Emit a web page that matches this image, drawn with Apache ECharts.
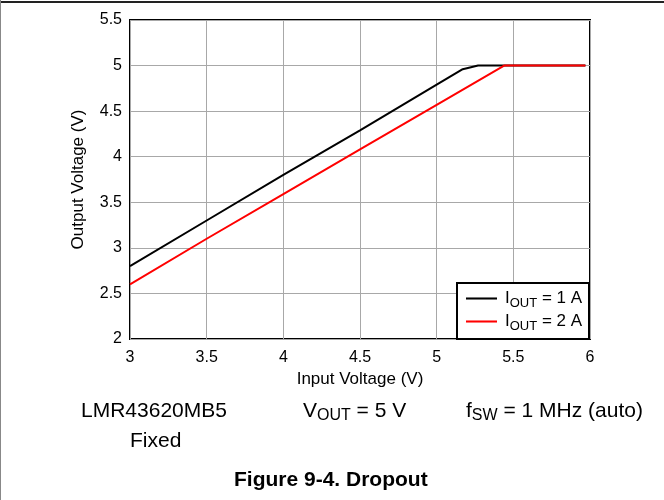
<!DOCTYPE html>
<html>
<head>
<meta charset="utf-8">
<script src="https://cdn.jsdelivr.net/npm/echarts@6/dist/echarts.min.js"></script>
<style>
  html, body { margin: 0; padding: 0; background: #fff; }
  #chart { width: 664px; height: 500px; }
</style>
</head>
<body>
<div id="chart"></div>
<script>
// Dropout curves: output voltage vs input voltage
const inputV1A = [3.0, 3.5, 4.0, 4.5, 5.0, 5.17, 5.27, 5.97];
const outputV1A = [2.80, 3.30, 3.80, 4.29, 4.79, 4.96, 5.0, 5.0];
const inputV2A = [3.0, 3.5, 4.0, 4.5, 5.0, 5.44, 5.97];
const outputV2A = [2.60, 3.10, 3.59, 4.08, 4.57, 5.0, 5.0];
const seriesNames = ['I_OUT = 1 A', 'I_OUT = 2 A'];
const xTicks = [3, 3.5, 4, 4.5, 5, 5.5, 6];
const yTicks = [2, 2.5, 3, 3.5, 4, 4.5, 5, 5.5];

const FONT = '"Liberation Sans", Arial, sans-serif';
const pair = (xs, ys) => xs.map((x, i) => [x, ys[i]]);

const chart = echarts.init(document.getElementById('chart'), null, { renderer: 'canvas' });

const legendRich = {
  m: { fontFamily: FONT, fontSize: 17, color: '#000', lineHeight: 23, padding: [0, 0, 0, 3] },
  s: { fontFamily: FONT, fontSize: 13, color: '#000', lineHeight: 23, verticalAlign: 'bottom', padding: [7, 0, 0, 0] },
  r: { fontFamily: FONT, fontSize: 17, color: '#000', lineHeight: 23 }
};
const noteRich = {
  m: { fontFamily: FONT, fontSize: 21, fill: '#000' },
  s: { fontFamily: FONT, fontSize: 16, fill: '#000', verticalAlign: 'bottom', padding: [8, 0, 0, 0] }
};

chart.setOption({
  animation: false,
  backgroundColor: '#fff',
  grid: {
    left: 130, right: 74, top: 20, bottom: 161,
    show: true, borderColor: '#000', borderWidth: 2, backgroundColor: 'transparent'
  },
  xAxis: {
    type: 'value', min: xTicks[0], max: xTicks[xTicks.length - 1], interval: 0.5,
    name: 'Input Voltage (V)', nameLocation: 'middle', nameGap: 31,
    nameTextStyle: { fontFamily: FONT, fontSize: 17, color: '#000' },
    axisLine: { show: false }, axisTick: { show: false },
    axisLabel: { fontFamily: FONT, fontSize: 16, color: '#000', margin: 11 },
    splitLine: { show: true, lineStyle: { color: '#a8a8a8', width: 1 } }
  },
  yAxis: {
    type: 'value', min: yTicks[0], max: yTicks[yTicks.length - 1], interval: 0.5,
    name: 'Output Voltage (V)', nameLocation: 'middle', nameGap: 43, nameRotate: 90,
    nameTextStyle: { fontFamily: FONT, fontSize: 17, color: '#000' },
    axisLine: { show: false }, axisTick: { show: false },
    axisLabel: { fontFamily: FONT, fontSize: 16, color: '#000', margin: 8 },
    splitLine: { show: true, lineStyle: { color: '#a8a8a8', width: 1 } }
  },
  legend: {
    orient: 'vertical', left: 466, top: 287,
    padding: 0, itemGap: 0,
    itemWidth: 31, itemHeight: 23, icon: 'path://M0,0 L30,0 L30,2 L0,2 Z',
    data: seriesNames,
    formatter: n => {
      const amps = n.split('= ')[1];
      return '{m|I}{s|OUT}{r| = ' + amps + '}';
    },
    textStyle: { rich: legendRich, lineHeight: 23 }
  },
  series: [
    {
      name: seriesNames[0], type: 'line', data: pair(inputV1A, outputV1A),
      symbol: 'none', lineStyle: { color: '#000', width: 2 }, itemStyle: { color: '#000' }
    },
    {
      name: seriesNames[1], type: 'line', data: pair(inputV2A, outputV2A),
      symbol: 'none', lineStyle: { color: '#ff0000', width: 2 }, itemStyle: { color: '#ff0000' }
    }
  ],
  graphic: [
    // legend frame, tucked into the lower-right corner of the plot
    {
      type: 'rect', z: 4, shape: { x: 457, y: 283, width: 132, height: 56 },
      style: { fill: '#fff', stroke: '#000', lineWidth: 2 }, silent: true
    },
    { type: 'rect', shape: { x: 0, y: 1, width: 664, height: 2 }, style: { fill: '#222' }, silent: true },
    { type: 'rect', shape: { x: 0, y: 0, width: 1, height: 500 }, style: { fill: '#888' }, silent: true },
    {
      type: 'text', left: 81, top: 401,
      style: { text: 'LMR43620MB5', font: '21px ' + FONT, fill: '#000' }
    },
    {
      type: 'text', left: 130, top: 431,
      style: { text: 'Fixed', font: '21px ' + FONT, fill: '#000' }
    },
    {
      type: 'text', left: 303, top: 401,
      style: { text: '{m|V}{s|OUT}{m| = 5 V}', rich: noteRich }
    },
    {
      type: 'text', left: 466, top: 401,
      style: { text: '{m|f}{s|SW}{m| = 1 MHz (auto)}', rich: noteRich }
    },
    {
      type: 'text', left: 234, top: 470,
      style: { text: 'Figure 9-4. Dropout', font: 'bold 21px ' + FONT, fill: '#000' }
    }
  ]
});
</script>
</body>
</html>
